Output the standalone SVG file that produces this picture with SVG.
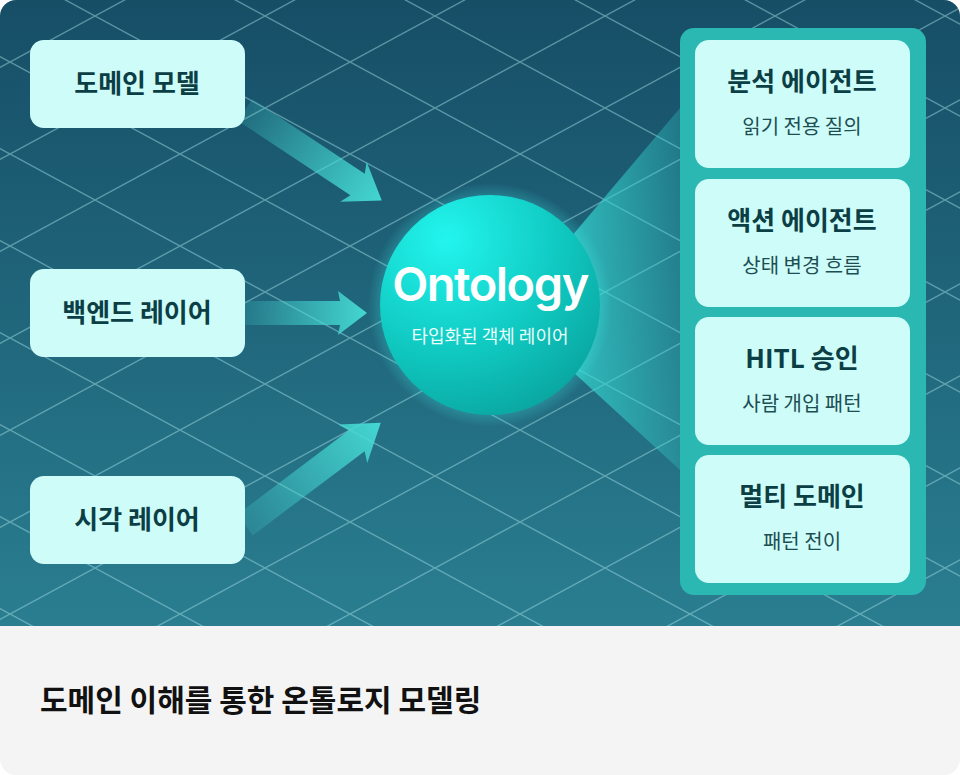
<svg xmlns="http://www.w3.org/2000/svg" width="960" height="775" viewBox="0 0 960 775">
<defs>
<linearGradient id="bg" x1="0" y1="0" x2="0" y2="1"><stop offset="0" stop-color="#164e66"/><stop offset="1" stop-color="#2a7e90"/></linearGradient>
<radialGradient id="ball" cx="0.3" cy="0.2" r="0.9"><stop offset="0" stop-color="#22f5ee"/><stop offset="0.6" stop-color="#0fc7bf"/><stop offset="1" stop-color="#0aa39e"/></radialGradient>
<radialGradient id="glow"><stop offset="0.75" stop-color="#3ff5ee" stop-opacity="0.5"/><stop offset="1" stop-color="#3ff5ee" stop-opacity="0"/></radialGradient>
<linearGradient id="fan" x1="0" y1="0" x2="1" y2="0"><stop offset="0" stop-color="#35d8d2" stop-opacity="0.8"/><stop offset="1" stop-color="#35d8d2" stop-opacity="0.25"/></linearGradient>
<linearGradient id="arr" gradientUnits="objectBoundingBox" x1="0" y1="0" x2="1" y2="0"><stop offset="0" stop-color="#46ddd6" stop-opacity="0.15"/><stop offset="1" stop-color="#46ddd6" stop-opacity="0.95"/></linearGradient>
<pattern id="grid" patternUnits="userSpaceOnUse" width="170" height="92" x="10" y="-30">
<path d="M0 0 L170 92 M170 0 L0 92 M-85 46 L0 92 M85 -46 L255 46 M-85 46 L85 -46 M85 138 L255 46" stroke="#9ad8df" stroke-opacity="0.5" stroke-width="1.4" fill="none"/>
</pattern>
<clipPath id="clip"><rect x="0" y="0" width="960" height="775" rx="16"/></clipPath>
</defs>
<style>
.box{fill:#cefcf9}
.t{font-family:"Noto Sans CJK KR","Noto Sans",sans-serif;font-weight:700;fill:#0c3f45;text-anchor:middle}
.s{font-family:"Noto Sans CJK KR","Noto Sans",sans-serif;font-size:20px;fill:#1d4e52;text-anchor:middle}
</style>
<g clip-path="url(#clip)">
<rect width="960" height="775" fill="#f4f4f4"/>
<rect width="960" height="626" fill="url(#bg)"/>
<rect width="960" height="626" fill="url(#grid)"/>
</g>
<g id="connectors">
<polygon points="560,250 680,108 680,470 560,360" fill="url(#fan)"/>
<g transform="translate(245,110) rotate(33.5)"><polygon points="0,-13 135,-13 130,-24 164,0 130,24 135,13 0,13" fill="url(#arr)"/></g>
<g transform="translate(245,313)"><polygon points="0,-12 95,-12 93,-22 122,0 93,22 95,12 0,12" fill="url(#arr)"/></g>
<g transform="translate(245,525) rotate(-37)"><polygon points="0,-13 140,-13 135,-24 170,0 135,24 140,13 0,13" fill="url(#arr)"/></g>
</g>
<g id="ontology">
<circle cx="490" cy="305" r="122" fill="url(#glow)"/>
<circle cx="490" cy="305" r="110" fill="url(#ball)"/>
<text x="490" y="301" font-family="Inter,'Noto Sans',sans-serif" font-size="47" font-weight="600" fill="#ffffff" text-anchor="middle" letter-spacing="-1.5">Ontology</text>
<text x="490" y="343" font-family="'Noto Sans CJK KR',sans-serif" font-size="18" fill="#e9fffd" text-anchor="middle">타입화된 객체 레이어</text>
</g>
<g id="domain"><rect class="box" x="30" y="40" width="215" height="88" rx="14"/><text class="t" x="137" y="93" font-size="26">도메인 모델</text></g>
<g id="backend"><rect class="box" x="30" y="269" width="215" height="88" rx="14"/><text class="t" x="137" y="322" font-size="26">백엔드 레이어</text></g>
<g id="visual"><rect class="box" x="30" y="476" width="215" height="88" rx="14"/><text class="t" x="137" y="529" font-size="26">시각 레이어</text></g>
<g id="panel"><rect x="680" y="28" width="246" height="567" rx="14" fill="#2bb7b2"/></g>
<g id="analysis"><rect class="box" x="695" y="40" width="215" height="128" rx="14"/><text class="t" x="802" y="91" font-size="26">분석 에이전트</text><text class="s" x="802" y="134">읽기 전용 질의</text></g>
<g id="action"><rect class="box" x="695" y="179" width="215" height="128" rx="14"/><text class="t" x="802" y="230" font-size="26">액션 에이전트</text><text class="s" x="802" y="273">상태 변경 흐름</text></g>
<g id="hitl"><rect class="box" x="695" y="317" width="215" height="128" rx="14"/><text class="t" x="802" y="368" font-size="26">HITL 승인</text><text class="s" x="802" y="411">사람 개입 패턴</text></g>
<g id="multi"><rect class="box" x="695" y="455" width="215" height="128" rx="14"/><text class="t" x="802" y="506" font-size="26">멀티 도메인</text><text class="s" x="802" y="549">패턴 전이</text></g>
<text x="40" y="711" font-family="'Noto Sans CJK KR',sans-serif" font-size="30" font-weight="700" fill="#111">도메인 이해를 통한 온톨로지 모델링</text>
</svg>
